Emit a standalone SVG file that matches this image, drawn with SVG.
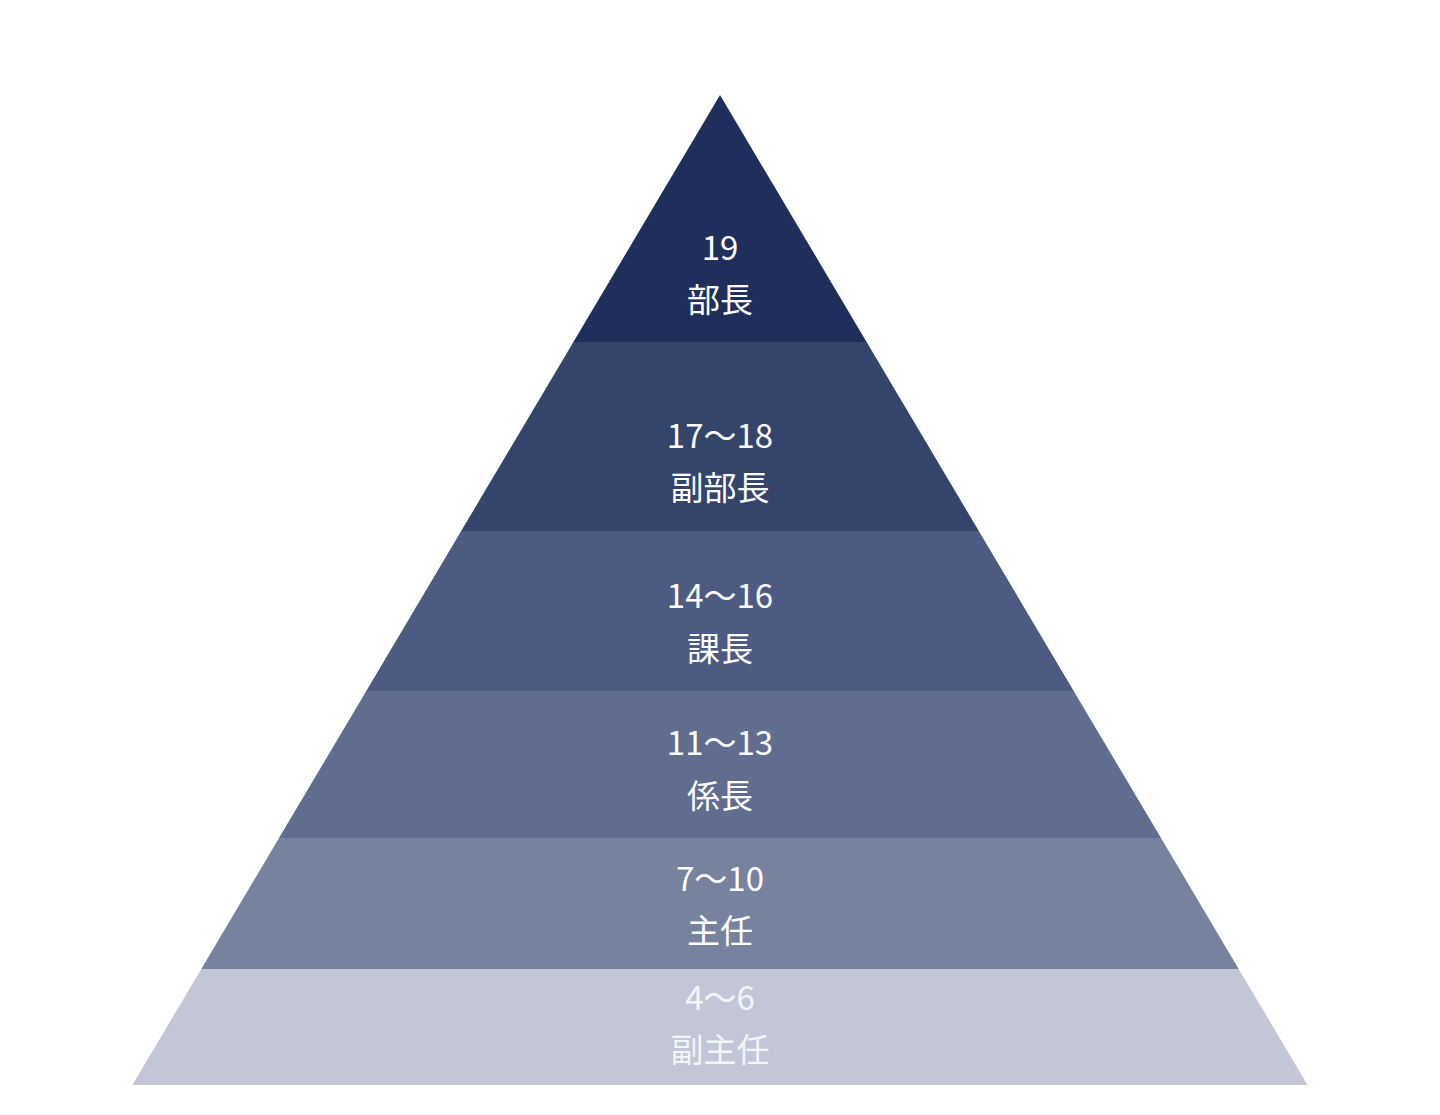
<svg xmlns="http://www.w3.org/2000/svg" width="1440" height="1115" viewBox="0 0 1440 1115">
<style>
text{font-family:"Noto Sans CJK JP","Noto Sans",sans-serif;font-size:33px;fill:#ffffff;text-anchor:middle}
.light text{fill:#f4f5f8}
</style>
<rect width="1440" height="1115" fill="#ffffff"/>
<g id="level-19">
<polygon points="720,95 866.6,342 573.4,342" fill="#1f2e5b"/>
<text x="720" y="260">19</text>
<text x="720" y="312">部長</text>
</g>
<g id="level-17-18">
<polygon points="573.4,342 866.6,342 978.8,531 461.2,531" fill="#34446b"/>
<text x="720" y="448">17〜18</text>
<text x="720" y="500">副部長</text>
</g>
<g id="level-14-16">
<polygon points="461.2,531 978.8,531 1073.7,691 366.3,691" fill="#4d5a82"/>
<text x="720" y="608">14〜16</text>
<text x="720" y="661">課長</text>
</g>
<g id="level-11-13">
<polygon points="366.3,691 1073.7,691 1161,838 279,838" fill="#606d8f"/>
<text x="720" y="755">11〜13</text>
<text x="720" y="808">係長</text>
</g>
<g id="level-7-10">
<polygon points="279,838 1161,838 1238.7,969 201.3,969" fill="#76829e"/>
<text x="720" y="891">7〜10</text>
<text x="720" y="943">主任</text>
</g>
<g id="level-4-6" class="light">
<polygon points="201.3,969 1238.7,969 1307.6,1085 132.4,1085" fill="#c3c6d7"/>
<text x="720" y="1010">4〜6</text>
<text x="720" y="1062">副主任</text>
</g>
</svg>
